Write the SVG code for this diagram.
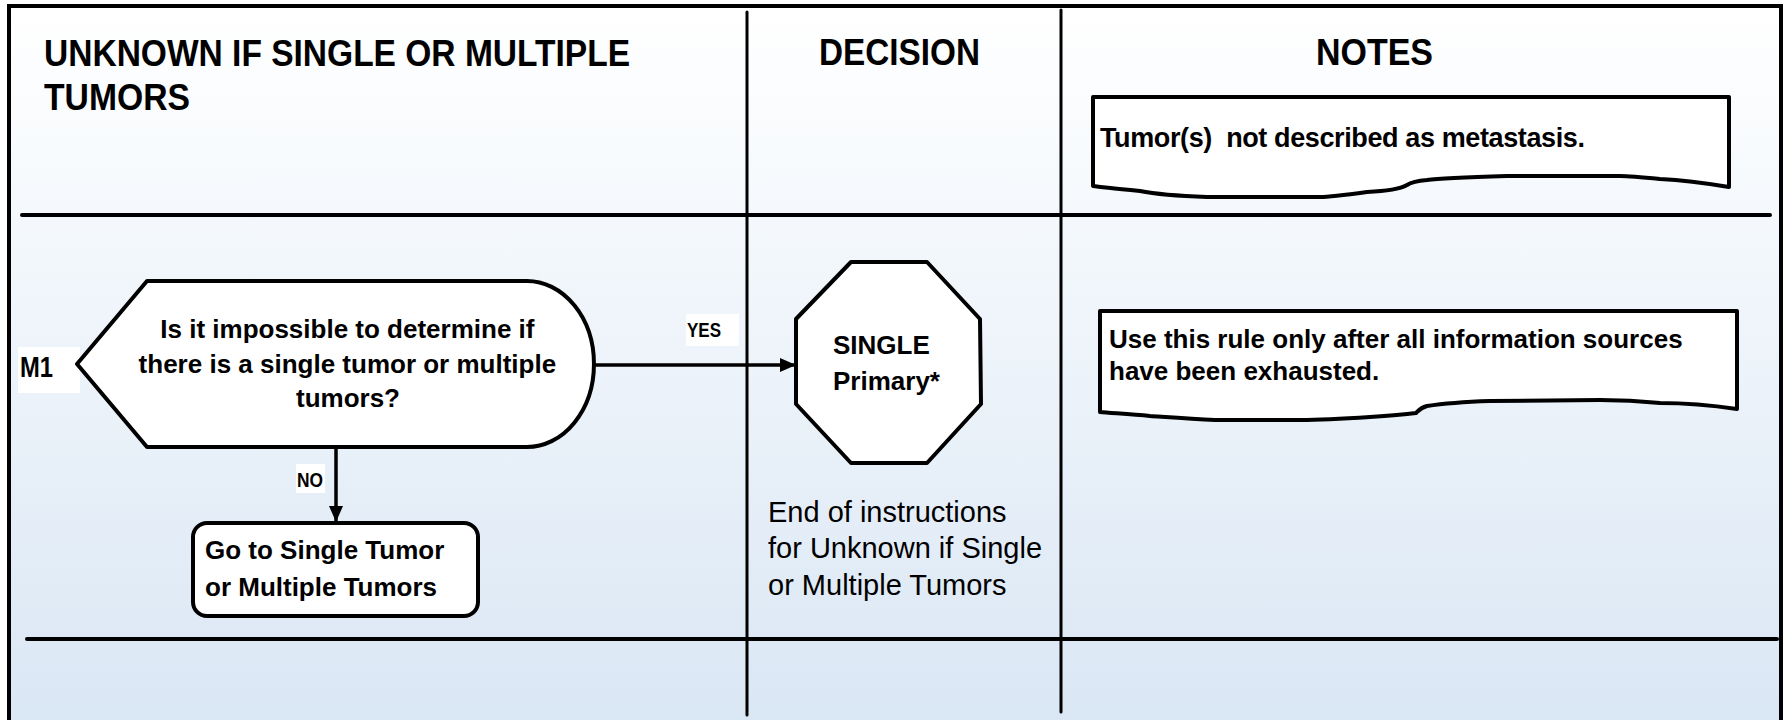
<svg xmlns="http://www.w3.org/2000/svg" width="1785" height="720" viewBox="0 0 1785 720">
  <defs>
    <linearGradient id="bg" x1="0" y1="0" x2="0" y2="1">
      <stop offset="0" stop-color="#ffffff"/>
      <stop offset="0.3" stop-color="#f4f8fc"/>
      <stop offset="1" stop-color="#d9e6f4"/>
    </linearGradient>
    <marker id="arrow" markerUnits="userSpaceOnUse" markerWidth="16" markerHeight="14" refX="16" refY="7" orient="auto">
      <path d="M0,0 L16,7 L0,14 Z" fill="#000"/>
    </marker>
    <style>
      text { font-family: "Liberation Sans", Arial, sans-serif; fill: #000; }
      .b { font-weight: bold; }
      .hdr { font-size: 36px; font-weight: bold; }
      .n26 { font-size: 26px; font-weight: bold; }
      .plain { font-size: 29px; }
      .lane { stroke: #000; stroke-width: 4; fill: none; stroke-linecap: round; }
      .vlane { stroke: #000; stroke-width: 3; fill: none; stroke-linecap: round; }
      .shape { fill: #fff; stroke: #000; stroke-width: 4; stroke-linejoin: round; }
      .conn { stroke: #000; stroke-width: 3.5; fill: none; }
      .lbl { fill: #fff; }
    </style>
  </defs>

  <rect x="0" y="0" width="1785" height="720" fill="#ffffff"/>
  <rect x="9" y="6" width="1772" height="730" fill="url(#bg)" stroke="#000" stroke-width="4"/>

  <!-- swimlane lines -->
  <line class="lane" x1="22" y1="215" x2="1770" y2="215"/>
  <line class="lane" x1="27" y1="639" x2="1777" y2="639"/>
  <line class="vlane" x1="747" y1="12" x2="747" y2="715"/>
  <line class="vlane" x1="1061" y1="10" x2="1061" y2="712"/>

  <!-- headers -->
  <g id="header-title">
    <text class="hdr" x="44" y="66" textLength="586" lengthAdjust="spacingAndGlyphs">UNKNOWN IF SINGLE OR MULTIPLE</text>
    <text class="hdr" x="44" y="110" textLength="146" lengthAdjust="spacingAndGlyphs">TUMORS</text>
  </g>
  <g id="header-decision">
    <text class="hdr" x="819" y="65" textLength="161" lengthAdjust="spacingAndGlyphs">DECISION</text>
  </g>
  <g id="header-notes">
    <text class="hdr" x="1316" y="65" textLength="117" lengthAdjust="spacingAndGlyphs">NOTES</text>
  </g>

  <!-- connectors -->
  <g id="connectors">
    <line class="conn" x1="595" y1="365" x2="796" y2="365" marker-end="url(#arrow)"/>
    <line class="conn" x1="336" y1="448" x2="336" y2="522" marker-end="url(#arrow)"/>
    <rect class="lbl" x="686" y="314" width="53" height="32"/>
    <text class="b" x="687" y="337" font-size="21" textLength="34" lengthAdjust="spacingAndGlyphs">YES</text>
    <rect class="lbl" x="296" y="464" width="29" height="29"/>
    <text class="b" x="297" y="487" font-size="21" textLength="26" lengthAdjust="spacingAndGlyphs">NO</text>
  </g>

  <!-- M1 decision -->
  <g id="node-m1">
    <rect class="lbl" x="18" y="347" width="62" height="46"/>
    <text class="b" x="20" y="377" font-size="29" textLength="33" lengthAdjust="spacingAndGlyphs">M1</text>
    <path class="shape" d="M77,364 L147,281 L527,281 A67,83 0 0 1 527,447 L147,447 Z"/>
    <text class="n26" text-anchor="middle">
      <tspan x="351" y="338">Is it impossible to determine if</tspan>
      <tspan x="351" y="373">there is a single tumor or multiple</tspan>
      <tspan x="348" y="407">tumors?</tspan>
    </text>
  </g>

  <!-- Go to box -->
  <g id="node-goto">
    <rect class="shape" x="193" y="523" width="285" height="93" rx="14" ry="14"/>
    <text class="n26">
      <tspan x="205" y="559">Go to Single Tumor</tspan>
      <tspan x="205" y="596">or Multiple Tumors</tspan>
    </text>
  </g>

  <!-- SINGLE primary octagon -->
  <g id="node-single">
    <polygon class="shape" points="851,262 927,262 980,319 981,404 927,463 851,463 796,404 796,319"/>
    <text class="n26">
      <tspan x="833" y="354">SINGLE</tspan>
      <tspan x="833" y="390">Primary*</tspan>
    </text>
  </g>

  <!-- End text -->
  <g id="node-end">
    <text class="plain">
      <tspan x="768" y="522">End of instructions</tspan>
      <tspan x="768" y="558">for Unknown if Single</tspan>
      <tspan x="768" y="595">or Multiple Tumors</tspan>
    </text>
  </g>

  <!-- Note 1 -->
  <g id="note-1">
    <path class="shape" d="M1093,97 L1729,97 L1729,187 C1705,183 1680,180 1660,179 C1640,177 1625,176 1620,176 L1507,176 C1470,177 1440,178 1427,180 C1415,181 1410,183 1407,185 C1400,189 1390,191 1367,192 C1345,195 1330,197 1320,197 L1207,197 C1180,196 1150,193 1140,191 C1120,189 1100,187 1093,186 Z"/>
    <text class="b" x="1100" y="147" font-size="27" textLength="485" lengthAdjust="spacing" xml:space="preserve">Tumor(s)  not described as metastasis.</text>
  </g>

  <!-- Note 2 -->
  <g id="note-2">
    <path class="shape" d="M1100,311 L1737,311 L1737,409 C1710,405 1685,403 1660,403 C1640,401 1620,400 1600,400 L1490,401 C1460,402 1440,404 1427,406 C1420,408 1418,411 1416,413 C1400,415 1385,416 1370,417 C1340,419 1320,420 1300,420 L1215,420 C1190,419 1165,417 1150,416 C1130,414 1110,413 1100,412 Z"/>
    <text class="n26">
      <tspan x="1109" y="348">Use this rule only after all information sources</tspan>
      <tspan x="1109" y="380">have been exhausted.</tspan>
    </text>
  </g>
</svg>
